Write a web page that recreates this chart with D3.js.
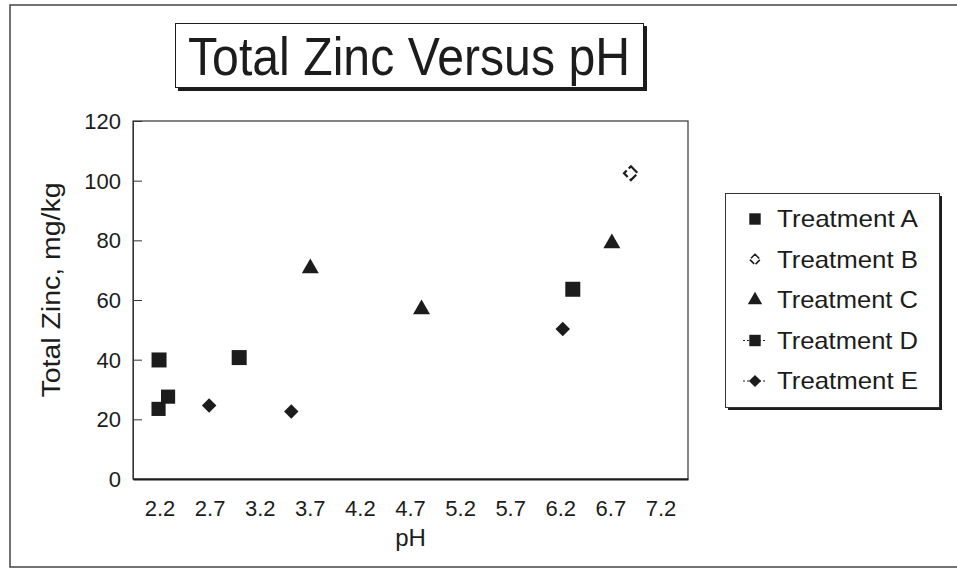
<!DOCTYPE html>
<html>
<head>
<meta charset="utf-8">
<script src="https://cdn.jsdelivr.net/npm/d3@7"></script>
<style>
  html, body { margin: 0; padding: 0; background: #fff; }
  svg { display: block; font-family: "Liberation Sans", Arial, sans-serif; }
</style>
</head>
<body>
<svg id="chart" width="957" height="568"></svg>
<script>
// 数据：每个处理的 pH 与总锌含量
var seriesNames = ['Treatment A', 'Treatment B', 'Treatment C', 'Treatment D', 'Treatment E'];
var phA = [2.19, 2.99, 6.32];
var znA = [39.9, 40.7, 63.6];
var phB = [6.90];
var znB = [102.5];
var phC = [3.70, 4.81, 6.71];
var znC = [70.6, 56.9, 79.0];
var phD = [2.185, 2.28];
var znD = [23.5, 27.6];
var phE = [2.69, 3.51, 6.22];
var znE = [24.6, 22.6, 50.3];
var xTicks = [2.2, 2.7, 3.2, 3.7, 4.2, 4.7, 5.2, 5.7, 6.2, 6.7, 7.2];
var yTicks = [0, 20, 40, 60, 80, 100, 120];

var ink = '#1c1c1c';
var svg = d3.select('#chart');

// 外框
svg.append('rect')
    .attr('x', 10).attr('y', 5)
    .attr('width', 960).attr('height', 562)
    .attr('fill', 'none').attr('stroke', '#444').attr('stroke-width', 1.5);

// 标题框（带阴影）
svg.append('rect').attr('x', 178).attr('y', 26).attr('width', 469).attr('height', 65).attr('fill', ink);
svg.append('rect').attr('x', 175.5).attr('y', 23.5).attr('width', 468).attr('height', 64)
    .attr('fill', '#fff').attr('stroke', ink).attr('stroke-width', 1);
svg.append('text')
    .attr('x', 188).attr('y', 75)
    .attr('font-size', 53)
    .attr('textLength', 442).attr('lengthAdjust', 'spacingAndGlyphs')
    .attr('fill', ink)
    .text('Total Zinc Versus pH');

var plot = { left: 133, right: 688, top: 121, bottom: 479 };

var x = d3.scaleLinear().domain([1.93, 7.47]).range([plot.left, plot.right]);
var y = d3.scaleLinear().domain([0, 120]).range([plot.bottom, plot.top]);

// 绘图区边框
svg.append('rect')
    .attr('x', plot.left).attr('y', plot.top)
    .attr('width', plot.right - plot.left).attr('height', plot.bottom - plot.top)
    .attr('fill', 'none').attr('stroke', '#333').attr('stroke-width', 1.2);

// y 轴（刻度朝内）
var yAxis = svg.append('g')
    .attr('transform', 'translate(' + plot.left + ',0)')
    .call(d3.axisRight(y).tickValues(yTicks).tickSize(9).tickFormat(''));
yAxis.select('.domain').attr('stroke', '#333');
yAxis.selectAll('line').attr('stroke', '#333');

svg.append('g').selectAll('text')
    .data(yTicks).enter().append('text')
    .attr('x', 121).attr('y', function (d) { return y(d); })
    .attr('dy', '0.36em')
    .attr('text-anchor', 'end')
    .attr('font-size', 22)
    .attr('fill', ink)
    .text(function (d) { return d; });

// x 轴
var xAxis = svg.append('g')
    .attr('transform', 'translate(0,' + plot.bottom + ')')
    .call(d3.axisBottom(x).tickValues(xTicks).tickSize(0).tickPadding(0).tickFormat(''));
xAxis.select('.domain').attr('stroke', ink).attr('stroke-width', 2);

svg.append('g').selectAll('text')
    .data(xTicks).enter().append('text')
    .attr('x', function (d) { return x(d); }).attr('y', 516)
    .attr('text-anchor', 'middle')
    .attr('font-size', 22)
    .attr('fill', ink)
    .text(function (d) { return d.toFixed(1); });

svg.append('text')
    .attr('x', x(4.7)).attr('y', 546)
    .attr('text-anchor', 'middle')
    .attr('font-size', 24)
    .attr('fill', ink)
    .text('pH');

svg.append('text')
    .attr('transform', 'translate(60,' + ((plot.top + plot.bottom) / 2 - 10) + ') rotate(-90)')
    .attr('text-anchor', 'middle')
    .attr('font-size', 25)
    .attr('textLength', 215).attr('lengthAdjust', 'spacingAndGlyphs')
    .attr('fill', ink)
    .text('Total Zinc, mg/kg');

// 标记样式
var symSquare = d3.symbol().type(d3.symbolSquare).size(225);
var symSquareD = d3.symbol().type(d3.symbolSquare).size(200);
var symTri = d3.symbol().type(d3.symbolTriangle).size(125);
var symDia = d3.symbol().type(d3.symbolSquare).size(105);
var symDiaB = d3.symbol().type(d3.symbolSquare).size(95);

function drawPoints(xs, ys, gen, rot, style) {
    var pts = xs.map(function (v, i) { return { x: v, y: ys[i] }; });
    var sel = svg.append('g').selectAll('path')
        .data(pts).enter().append('path')
        .attr('d', gen)
        .attr('transform', function (d) {
            return 'translate(' + x(d.x) + ',' + y(d.y) + ')' + (rot ? ' rotate(' + rot + ')' : '');
        });
    style(sel);
}

var filled = function (s) { s.attr('fill', ink); };
var openB = function (s) {
    s.attr('fill', 'none').attr('stroke', ink).attr('stroke-width', 2.2).attr('stroke-dasharray', '9,3');
};

drawPoints(phA, znA, symSquare, 0, filled);
drawPoints(phB, znB, symDiaB, 45, openB);
drawPoints(phC, znC, symTri, 0, filled);
drawPoints(phD, znD, symSquareD, 0, filled);
drawPoints(phE, znE, symDia, 45, filled);

// 图例
var lg = { x: 725, y: 193, w: 214, h: 214 };
svg.append('rect').attr('x', lg.x + 3).attr('y', lg.y + 3).attr('width', lg.w).attr('height', lg.h).attr('fill', ink);
svg.append('rect').attr('x', lg.x + 0.5).attr('y', lg.y + 0.5).attr('width', lg.w).attr('height', lg.h)
    .attr('fill', '#fff').attr('stroke', '#333').attr('stroke-width', 1);

var legendMarks = [
    { gen: d3.symbol().type(d3.symbolSquare).size(130), rot: 0, style: filled, line: false },
    { gen: d3.symbol().type(d3.symbolSquare).size(55), rot: 45, style: function (s) {
        s.attr('fill', 'none').attr('stroke', ink).attr('stroke-width', 1.6).attr('stroke-dasharray', '6,2');
    }, line: false },
    { gen: d3.symbol().type(d3.symbolTriangle).size(90), rot: 0, style: filled, line: false },
    { gen: d3.symbol().type(d3.symbolSquare).size(130), rot: 0, style: filled, line: true },
    { gen: d3.symbol().type(d3.symbolSquare).size(75), rot: 45, style: filled, line: true }
];

var rows = svg.append('g').selectAll('g')
    .data(seriesNames).enter().append('g')
    .attr('transform', function (d, i) { return 'translate(' + lg.x + ',' + (lg.y + 26 + i * 40.5) + ')'; });

rows.each(function (d, i) {
    var row = d3.select(this);
    var m = legendMarks[i];
    if (m.line) {
        row.append('line').attr('x1', 18).attr('x2', 42).attr('y1', 0).attr('y2', 0)
            .attr('stroke', ink).attr('stroke-width', 1).attr('stroke-dasharray', '2,2');
    }
    var p = row.append('path').attr('d', m.gen)
        .attr('transform', 'translate(30,0)' + (m.rot ? ' rotate(' + m.rot + ')' : ''));
    m.style(p);
    row.append('text')
        .attr('x', 52).attr('y', 0).attr('dy', '0.35em')
        .attr('font-size', 24)
        .attr('textLength', 141).attr('lengthAdjust', 'spacingAndGlyphs')
        .attr('fill', ink)
        .text(d);
});
</script>
</body>
</html>
